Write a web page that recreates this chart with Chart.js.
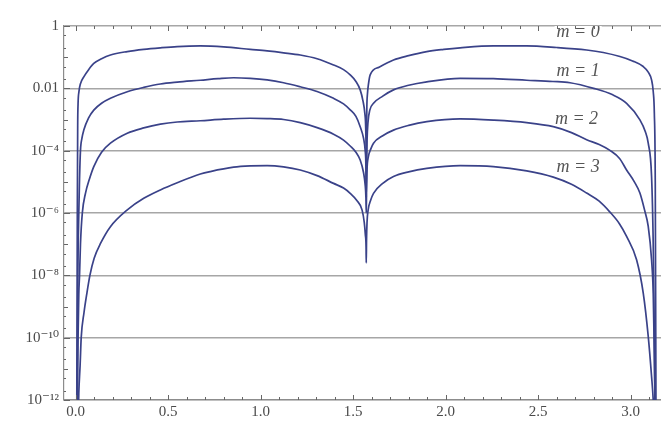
<!DOCTYPE html>
<html>
<head>
<meta charset="utf-8">
<script src="https://cdn.jsdelivr.net/npm/chart.js@4.4.1/dist/chart.umd.min.js"></script>
<style>
  html, body { margin: 0; padding: 0; background: #fff; overflow: hidden; }
  #wrap { width: 661px; height: 424px; }
</style>
</head>
<body>
<div id="wrap"><canvas id="c" width="661" height="424"></canvas></div>
<script>
// Tick positions
const xTickValues = [0, 0.5, 1, 1.5, 2, 2.5, 3];
const yTickExponents = [0, -2, -4, -6, -8, -10, -12];

// Curve labels
const seriesNames = ['m = 0', 'm = 1', 'm = 2', 'm = 3'];

// Angle samples (rad) and log10 of the plotted quantity for each m
const m0X = [0.006, 0.009, 0.011, 0.013, 0.018, 0.026, 0.044, 0.070, 0.098, 0.140, 0.188, 0.279, 0.368, 0.458, 0.549, 0.674, 0.800, 0.944, 1.035, 1.124, 1.214, 1.305, 1.394, 1.448, 1.484, 1.515, 1.538, 1.553, 1.563, 1.568, 1.5702, 1.5708, 1.5722, 1.574, 1.577, 1.582, 1.592, 1.640, 1.718, 1.800, 1.898, 1.990, 2.078, 2.258, 2.438, 2.600, 2.762, 2.852, 2.942, 3.010, 3.068, 3.095, 3.113, 3.122, 3.128, 3.133, 3.137];
const m0E = [-12.6, -6.0, -3.2, -2.5, -2.1, -1.85, -1.63, -1.40, -1.20, -1.05, -0.93, -0.82, -0.75, -0.70, -0.66, -0.64, -0.67, -0.75, -0.80, -0.86, -0.93, -1.05, -1.25, -1.40, -1.57, -1.78, -2.05, -2.4, -2.8, -3.3, -4.2, -5.0, -3.5, -2.6, -2.2, -1.9, -1.57, -1.32, -1.09, -0.95, -0.82, -0.75, -0.70, -0.64, -0.64, -0.69, -0.77, -0.85, -0.98, -1.12, -1.30, -1.48, -1.73, -2.1, -2.8, -5.0, -12.6];

const m1X = [0.008, 0.012, 0.017, 0.021, 0.026, 0.034, 0.044, 0.070, 0.098, 0.140, 0.188, 0.279, 0.368, 0.458, 0.549, 0.674, 0.770, 0.854, 0.944, 1.035, 1.124, 1.214, 1.305, 1.394, 1.448, 1.484, 1.515, 1.538, 1.556, 1.565, 1.569, 1.5708, 1.5725, 1.575, 1.580, 1.590, 1.610, 1.660, 1.718, 1.800, 1.898, 2.078, 2.258, 2.438, 2.580, 2.672, 2.800, 2.900, 2.978, 3.050, 3.080, 3.095, 3.113, 3.122, 3.128, 3.132];
const m1E = [-12.6, -8.0, -6.0, -4.9, -4.0, -3.6, -3.34, -2.95, -2.70, -2.48, -2.32, -2.11, -1.97, -1.86, -1.80, -1.74, -1.69, -1.66, -1.68, -1.73, -1.82, -1.95, -2.10, -2.32, -2.50, -2.69, -2.90, -3.23, -3.6, -4.0, -4.5, -5.5, -4.5, -3.7, -3.1, -2.7, -2.48, -2.25, -2.05, -1.90, -1.79, -1.68, -1.69, -1.74, -1.78, -1.82, -2.0, -2.2, -2.48, -3.01, -3.4, -3.76, -4.83, -7.0, -10.0, -12.6];

const m2X = [0.007, 0.011, 0.013, 0.017, 0.021, 0.026, 0.036, 0.053, 0.075, 0.098, 0.140, 0.188, 0.279, 0.368, 0.458, 0.549, 0.674, 0.800, 0.944, 1.035, 1.124, 1.214, 1.305, 1.394, 1.448, 1.484, 1.515, 1.538, 1.556, 1.565, 1.569, 1.5708, 1.5725, 1.575, 1.582, 1.595, 1.610, 1.660, 1.718, 1.800, 1.898, 2.078, 2.258, 2.438, 2.582, 2.680, 2.762, 2.830, 2.888, 2.940, 2.978, 3.020, 3.050, 3.075, 3.095, 3.113, 3.122, 3.128, 3.133];
const m2E = [-12.6, -11.0, -10.0, -8.6, -8.0, -7.0, -6.0, -5.37, -4.9, -4.51, -4.05, -3.76, -3.44, -3.27, -3.15, -3.08, -3.04, -2.99, -2.96, -2.97, -3.00, -3.10, -3.26, -3.47, -3.66, -3.85, -4.05, -4.3, -4.7, -5.1, -5.5, -6.0, -5.2, -4.6, -4.2, -3.95, -3.76, -3.52, -3.34, -3.19, -3.07, -2.98, -3.02, -3.10, -3.23, -3.42, -3.65, -3.80, -3.99, -4.25, -4.62, -5.0, -5.36, -5.9, -6.43, -7.5, -8.57, -10.5, -12.6];

const m3X = [0.014, 0.017, 0.024, 0.030, 0.045, 0.060, 0.077, 0.100, 0.135, 0.188, 0.279, 0.368, 0.458, 0.549, 0.674, 0.728, 0.854, 0.944, 1.035, 1.124, 1.214, 1.305, 1.394, 1.448, 1.484, 1.520, 1.548, 1.560, 1.566, 1.5698, 1.5708, 1.5722, 1.575, 1.581, 1.594, 1.610, 1.660, 1.718, 1.800, 1.898, 2.078, 2.258, 2.438, 2.582, 2.680, 2.762, 2.830, 2.888, 2.940, 2.978, 3.032, 3.068, 3.095, 3.113, 3.122, 3.126];
const m3E = [-12.6, -11.78, -10.9, -10.0, -9.2, -8.6, -8.0, -7.45, -6.97, -6.44, -5.90, -5.53, -5.26, -5.03, -4.75, -4.67, -4.53, -4.49, -4.48, -4.52, -4.62, -4.80, -5.05, -5.20, -5.37, -5.60, -5.90, -6.3, -6.7, -7.1, -7.6, -6.9, -6.3, -5.9, -5.6, -5.37, -5.05, -4.83, -4.68, -4.57, -4.48, -4.51, -4.65, -4.85, -5.08, -5.36, -5.62, -5.97, -6.35, -6.75, -7.5, -8.57, -9.96, -11.24, -12.0, -12.6];

// Label anchors in data coordinates (x in rad, log10 y)
const labelAnchors = [[2.716, -0.18], [2.716, -1.41], [2.707, -2.96], [2.716, -4.51]];

const LINE = '#3a4289';
const GRID = '#a6a6a6';
const FRAME = '#8c8c8c';
const TEXT = '#4a4a4a';

function toPoints(xs, es) {
  return xs.map((x, i) => ({ x: x, y: Math.pow(10, es[i]) }));
}

const SUP = { '0': '\u2070', '1': '\u00b9', '2': '\u00b2', '3': '\u00b3', '4': '\u2074', '5': '\u2075', '6': '\u2076', '7': '\u2077', '8': '\u2078', '9': '\u2079', '-': '\u207b' };
function powLabel(e) {
  if (e === 0) return '1';
  if (e === -2) return '0.01';
  return '10' + String(e).split('').map(c => SUP[c]).join('');
}

// Inward tick marks on the frame (bottom, top and left)
const frameTicks = {
  id: 'frameTicks',
  afterDraw(chart) {
    const { ctx, chartArea: a, scales: { x, y } } = chart;
    ctx.save();
    ctx.strokeStyle = '#666';
    ctx.lineWidth = 1;
    for (let k = 0; k <= 31; k++) {
      const v = k / 10;
      const px = Math.round(x.getPixelForValue(v)) + 0.5;
      const len = (k % 5 === 0) ? 5 : 3;
      ctx.beginPath();
      ctx.moveTo(px, a.bottom); ctx.lineTo(px, a.bottom - len);
      ctx.moveTo(px, a.top); ctx.lineTo(px, a.top + len);
      ctx.stroke();
    }
    for (let e = -12; e <= 0; e++) {
      const py = Math.round(y.getPixelForValue(Math.pow(10, e))) + 0.5;
      const len = (e % 2 === 0) ? 6 : 4;
      ctx.beginPath();
      ctx.moveTo(a.left, py); ctx.lineTo(a.left + len, py);
      ctx.stroke();
      if (e < 0) {
        for (const m of [2, 5]) {
          const qy = Math.round(y.getPixelForValue(m * Math.pow(10, e))) + 0.5;
          ctx.beginPath();
          ctx.moveTo(a.left, qy); ctx.lineTo(a.left + 2, qy);
          ctx.stroke();
        }
      }
    }
    ctx.restore();
  }
};

// Curve names written inside the plot with a white backing
const curveLabels = {
  id: 'curveLabels',
  afterDatasetsDraw(chart) {
    const { ctx, chartArea: a, scales: { x, y } } = chart;
    ctx.save();
    ctx.beginPath();
    ctx.rect(a.left, a.top, a.right - a.left, a.bottom - a.top);
    ctx.clip();
    ctx.font = 'italic 18px "Liberation Serif", "DejaVu Serif", serif';
    ctx.textAlign = 'center';
    ctx.textBaseline = 'middle';
    seriesNames.forEach((name, i) => {
      const px = x.getPixelForValue(labelAnchors[i][0]);
      const py = y.getPixelForValue(Math.pow(10, labelAnchors[i][1]));
      const w = ctx.measureText(name).width;
      ctx.fillStyle = '#fff';
      ctx.fillRect(px - w / 2 - 2, py - 7, w + 4, 14);
      ctx.fillStyle = '#555';
      ctx.fillText(name, px, py + 1);
    });
    ctx.restore();
  }
};

const series = [[m0X, m0E], [m1X, m1E], [m2X, m2E], [m3X, m3E]];

new Chart(document.getElementById('c'), {
  type: 'scatter',
  data: {
    datasets: series.map((s, i) => ({
      label: seriesNames[i],
      data: toPoints(s[0], s[1]),
      showLine: true,
      borderColor: LINE,
      borderWidth: 1.7,
      pointRadius: 0,
      cubicInterpolationMode: 'monotone',
      fill: false
    }))
  },
  options: {
    responsive: false,
    animation: false,
    layout: { padding: { top: 26, right: 0, bottom: 0, left: 0 } },
    plugins: { legend: { display: false }, tooltip: { enabled: false } },
    scales: {
      x: {
        type: 'linear',
        min: -0.063,
        max: 3.164,
        afterBuildTicks: (s) => { s.ticks = xTickValues.map(v => ({ value: v })); },
        afterFit: (s) => { s.height = 24; },
        ticks: {
          callback: (v) => Number(v).toFixed(1),
          color: TEXT,
          font: { family: '"Liberation Serif", "DejaVu Serif", serif', size: 15 },
          padding: 3,
          maxRotation: 0
        },
        grid: { drawOnChartArea: false, drawTicks: false },
        border: { display: true, color: FRAME, width: 1.2 }
      },
      y: {
        type: 'logarithmic',
        min: 1e-12,
        max: 1,
        afterBuildTicks: (s) => { s.ticks = yTickExponents.map(e => ({ value: Math.pow(10, e) })); },
        afterFit: (s) => { s.width = 64; },
        ticks: {
          callback: (v) => powLabel(Math.round(Math.log10(v))),
          color: TEXT,
          font: { family: '"Liberation Serif", "DejaVu Serif", serif', size: 15 },
          padding: 5
        },
        grid: { color: GRID, lineWidth: 1.6, drawTicks: false },
        border: { display: true, color: FRAME, width: 1.2 }
      }
    }
  },
  plugins: [curveLabels, frameTicks]
});
</script>
</body>
</html>
